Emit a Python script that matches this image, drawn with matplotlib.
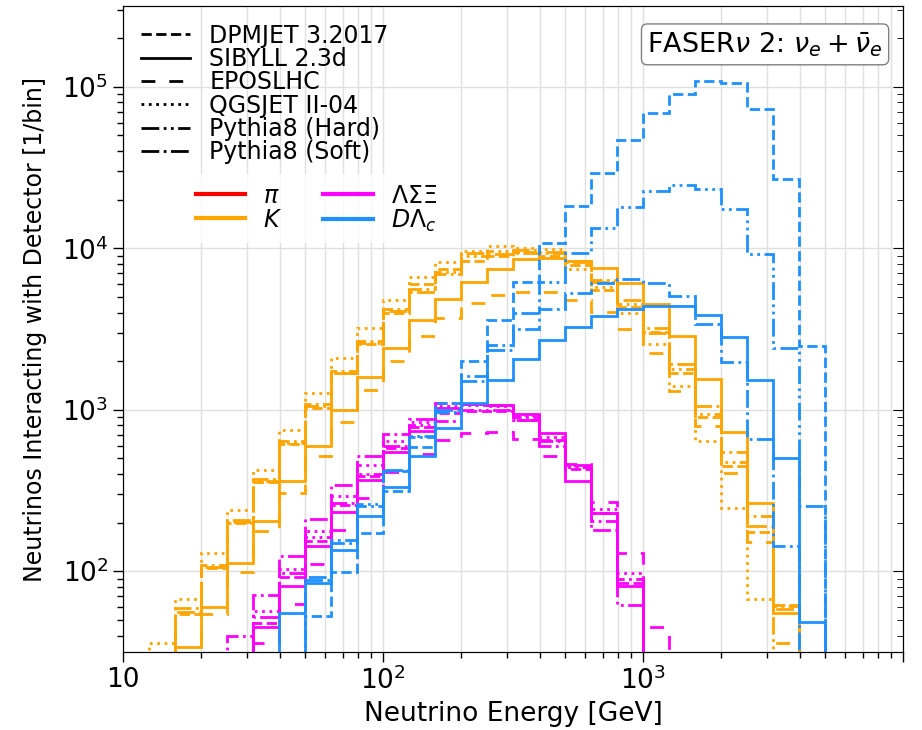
import numpy as np
import matplotlib
matplotlib.use("Agg")
import matplotlib.pyplot as plt
from matplotlib.lines import Line2D
from matplotlib.ticker import NullFormatter

# energy bins: 10 per decade, 10 GeV .. 10 TeV
edges = 10 ** (np.arange(10, 41) / 10)

generators = ["DPMJET 3.2017", "SIBYLL 2.3d", "EPOSLHC", "QGSJET II-04",
              "Pythia8 (Hard)", "Pythia8 (Soft)"]
gen_styles = ["--", "-", (0, (5, 5)), ":",
              (0, (6.4, 1.6, 1, 1.6, 1, 1.6)), "-."]

# kaons, first bin = edges[1]
K_start = 1
K_dpmjet = [26, 54, 104, 198, 355, 610, 1030, 1680, 2550, 3950, 5970, 7400, 8330,
            9000, 9450, 9000, 7900, 5500, 4300, 3050, 1700, 900, 450, 175, 62]
K_sibyll = [20, 34, 60, 113, 204, 361, 594, 991, 1600, 2420, 3620, 4880, 6210,
            7480, 8630, 8750, 8330, 7510, 6120, 4490, 2860, 1540, 731, 265, 55]
K_epos = [18, 30, 54, 99, 177, 306, 515, 838, 1321, 2000, 2860, 3720, 4560,
          5110, 5380, 5360, 4780, 4040, 3140, 2230, 1300, 791, 403, 151, 36]
K_qgsjet = [36, 67, 130, 238, 422, 748, 1262, 2080, 3220, 4780, 6640, 8260, 9610,
            10300, 10100, 9900, 7480, 5780, 3990, 2570, 1410, 639, 247, 67]
K_py_hard = [28, 56, 106, 203, 362, 625, 1050, 1700, 2600, 4100, 5600, 7100, 9000,
             9600, 9700, 9500, 8200, 6200, 4500, 3000, 1800, 946, 476, 190, 58]
K_py_soft = [30, 59, 110, 209, 370, 639, 1080, 1735, 2660, 4180, 5350, 6970, 9300,
             9160, 9300, 9300, 8300, 6350, 4780, 3220, 1930, 1050, 549, 221, 61]

# hyperons, first bin = edges[4]
H_start = 4
H_dpmjet = [27, 48, 92, 155, 258, 390, 580, 780, 950, 980, 980, 870, 650, 430, 230, 85, 20]
H_sibyll = [26, 45, 81, 143, 233, 365, 549, 736, 1028, 1080, 1064, 935, 713, 361, 228, 81.5, 10]
H_epos = [20, 36, 63, 111, 181, 285, 410, 535, 649, 713, 726, 655, 520, 460, 269, 130, 45]
H_qgsjet = [30, 56.5, 103, 177, 292, 454, 645, 838, 1050, 1075, 1050, 930, 680, 445, 243, 97, 15]
H_py_hard = [28, 52, 98, 163, 265, 401, 600, 800, 851, 1000, 990, 860, 640, 440, 181, 62, 12]
H_py_soft = [39.5, 71, 125, 212, 344, 515, 703, 880, 1096, 1080, 1064, 900, 595, 458, 204, 89, 20]

# charm, first bin = edges[6]
D_start = 6
D_dpmjet = [20, 53, 99, 173, 313, 589, 1105, 2000, 3620, 6180, 10800, 18200, 29400,
            46800, 68500, 90800, 108600, 105000, 73300, 27000, 2480]
D_sibyll = [55, 85, 135, 219, 333, 520, 773, 1105, 1525, 2070, 2690, 3270, 3800,
            4180, 4390, 4390, 3860, 2830, 1525, 505, 48.5]
D_py_hard = [25, 92, 157, 262, 425, 690, 990, 1615, 2500, 3950, 6210, 9400, 13300,
             18100, 22600, 24500, 23200, 17400, 9160, 2420, 253]
D_py_soft = [25, 88, 150, 255, 415, 680, 970, 1503, 2360, 3180, 4180, 5310, 6120,
             6410, 6050, 5060, 3420, 1980, 655, 143, 20]

fig = plt.figure(figsize=(9.22, 7.30), dpi=100)
ax = fig.add_axes([123 / 922, 78 / 730, 780 / 922, 646 / 730])


def draw(vals, start, color, ls):
    v = np.array(vals, dtype=float)
    ax.stairs(v, edges[start:start + len(v) + 1], baseline=1, color=color,
              linestyle=ls, linewidth=2)


orange, magenta, blue = "orange", "magenta", "dodgerblue"
for vals, ls in zip([K_dpmjet, K_sibyll, K_epos, K_qgsjet, K_py_hard, K_py_soft], gen_styles):
    draw(vals, K_start, orange, ls)
for vals, ls in zip([H_dpmjet, H_sibyll, H_epos, H_qgsjet, H_py_hard, H_py_soft], gen_styles):
    draw(vals, H_start, magenta, ls)
for vals, ls in zip([D_dpmjet, D_sibyll, D_py_hard, D_py_soft],
                    [gen_styles[0], gen_styles[1], gen_styles[4], gen_styles[5]]):
    draw(vals, D_start, blue, ls)

ax.set_xscale("log")
ax.set_yscale("log")
ax.set_xlim(10, 1e4)
ax.set_ylim(10 ** 1.5, 10 ** 5.5)
ax.set_xticks([10, 100, 1000, 10000])
ax.set_xticklabels(["10", "$10^2$", "$10^3$", ""])
ax.xaxis.set_minor_formatter(NullFormatter())
ax.tick_params(which="major", labelsize=19, length=7, width=1)
ax.tick_params(which="minor", length=4, width=1)
ax.grid(which="major", color="#e0e0e0", linewidth=1)
ax.grid(which="minor", axis="x", color="#e0e0e0", linewidth=1)
ax.set_axisbelow(True)
ax.set_xlabel("Neutrino Energy [GeV]", fontsize=19)
ax.set_ylabel("Neutrinos Interacting with Detector [1/bin]", fontsize=17, labelpad=11)

ax2 = ax.twinx()
ax2.set_yscale("log")
ax2.set_ylim(ax.get_ylim())
ax2.tick_params(which="both", direction="in", labelright=False)
ax2.tick_params(which="major", length=7)
ax2.tick_params(which="minor", length=4)

h1 = [Line2D([], [], color="black", linestyle=ls, linewidth=2) for ls in gen_styles]
leg1 = ax.legend(h1, generators, loc="upper left", bbox_to_anchor=(0.0, 1.0),
                 fontsize=17, frameon=False, handlelength=2.1, handletextpad=0.8,
                 labelspacing=-0.03, borderaxespad=0.35)
ax.add_artist(leg1)

h2 = [Line2D([], [], color=c, linewidth=3) for c in ["red", orange, magenta, blue]]
ax.legend(h2, [r"$\pi$", r"$K$", r"$\Lambda\Sigma\Xi$", r"$D\Lambda_c$"],
          loc="upper left", bbox_to_anchor=(0.066, 0.758), ncol=2, fontsize=17,
          handlelength=2.1, handletextpad=0.75, labelspacing=0.0, columnspacing=1.75,
          frameon=True, edgecolor="none", framealpha=0.8)

ax.text(0.974, 0.963, r"FASER$\nu$ 2: $\nu_e + \bar{\nu}_e$", transform=ax.transAxes,
        ha="right", va="top", fontsize=19.5,
        bbox=dict(boxstyle="round,pad=0.22", facecolor="white", edgecolor="gray"))

fig.savefig("out.png", dpi=100)
